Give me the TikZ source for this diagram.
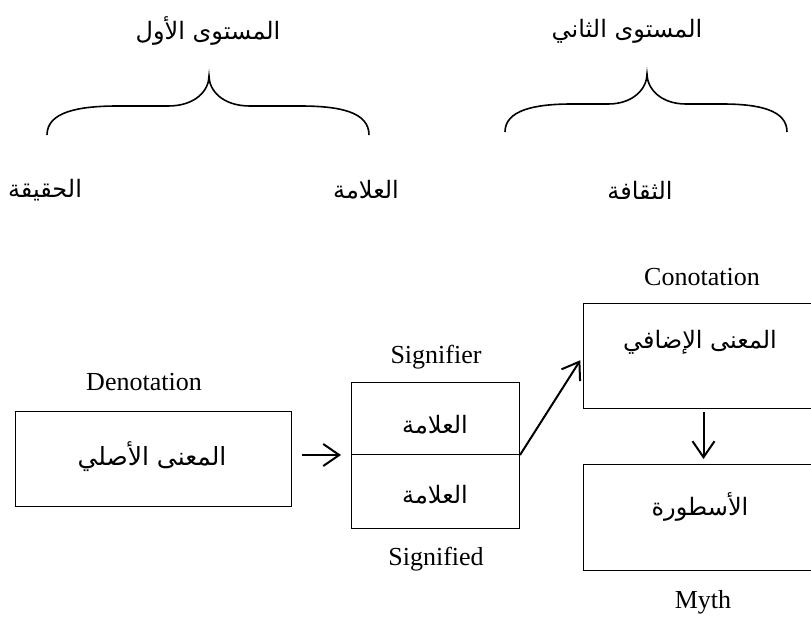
\documentclass[tikz,border=0pt]{standalone}
\usepackage{fontspec}
\setmainfont{Liberation Serif}
\newfontfamily\arabicfont[Script=Arabic]{DejaVu Sans}
\TeXXeTstate=1
\usetikzlibrary{arrows.meta}
\tikzset{
  boxshape/.style={draw, line width=1pt, inner sep=0pt, anchor=north west},
  en/.style={font=\fontsize{26}{30}\selectfont, inner sep=0pt},
  ar/.style={font=\arabicfont\fontsize{24}{30}\selectfont, inner sep=0pt},
  arbig/.style={font=\arabicfont\fontsize{25}{32}\selectfont, inner sep=0pt},
  arr/.style={line width=2pt, -{Straight Barb[length=16pt,width=22pt]}},
  braceline/.style={line width=1.6pt}
}
\begin{document}
\begin{tikzpicture}[x=1pt,y=-1pt]
\useasboundingbox (0,0) rectangle (811,621);
\clip (0,0) rectangle (811,621);
\fill[white] (0,0) rectangle (811,621);

% top level titles
\node[ar] (lev1) at (208,31) {\beginR المستوى الأول\endR};
\node[ar] (lev2) at (627,31) {\beginR المستوى الثاني\endR};

% braces
\draw[braceline] (47,135) .. controls (47,112) and (78,106) .. (118,106)
  -- (168,106) .. controls (196,106) and (209,90) .. (209,76)
  .. controls (209,90) and (222,106) .. (250,106)
  -- (300,106) .. controls (340,106) and (369,112) .. (369,135);
\draw[braceline] (505,132) .. controls (505,110) and (535,104) .. (572,104)
  -- (608,104) .. controls (634,104) and (647,88) .. (647,74)
  .. controls (647,88) and (660,104) .. (686,104)
  -- (722,104) .. controls (759,104) and (787,110) .. (787,132);

% lower labels
\node[ar] (haq) at (45,190) {\beginR الحقيقة\endR};
\node[ar] (alam) at (366,190) {\beginR العلامة\endR};
\node[ar] (thaq) at (640,190) {\beginR الثقافة\endR};

% boxes
\node[boxshape, minimum width=276pt, minimum height=95pt] (box1) at (15,411) {};
\node[boxshape, minimum width=168pt, minimum height=72pt] (sigtop) at (351,382) {};
\node[boxshape, minimum width=168pt, minimum height=74pt] (sigbot) at (351,454) {};
\node[boxshape, minimum width=240pt, minimum height=105pt] (box3) at (583,303) {};
\node[boxshape, minimum width=240pt, minimum height=106pt] (box4) at (583,464) {};

% box texts
\node[arbig] (t1) at (152,457) {\beginR المعنى الأصلي\endR};
\node[ar] (t2) at (435,425) {\beginR العلامة\endR};
\node[ar] (t3) at (435,495) {\beginR العلامة\endR};
\node[ar] (t4) at (700,342) {\beginR المعنى الإضافي\endR};
\node[ar] (t5) at (700,507) {\beginR الأسطورة\endR};

% English labels
\node[en] (deno) at (144,382) {Denotation};
\node[en] (sigr) at (436,357) {Signifier};
\node[en] (sigd) at (436,559) {Signified};
\node[en] (cono) at (702,277) {Conotation};
\node[en] (myth) at (703,602) {Myth};

% arrows
\path (box1.east |- sigtop.south) coordinate (a1s);
\draw[arr, shorten <=10pt, shorten >=10pt] (a1s) -- (sigtop.south west);
\draw[arr, shorten >=5pt] (sigtop.south east) -- (box3.west);
\draw[arr, shorten <=3pt, shorten >=5pt] (box3.south) -- (box4.north);
\end{tikzpicture}
\end{document}
